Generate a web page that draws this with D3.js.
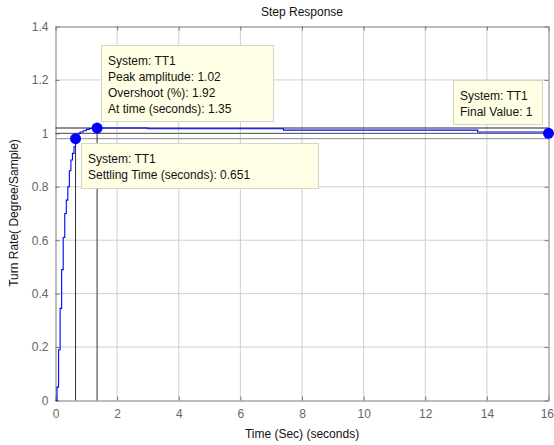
<!DOCTYPE html>
<html><head><meta charset="utf-8">
<script src="https://cdn.jsdelivr.net/npm/d3@7"></script>
<style>body{margin:0;background:#fff}svg text{font-family:"Liberation Sans",Arial,sans-serif}</style>
</head><body><svg id="c" width="554" height="445"></svg>
<script>
// Step response samples (time in s, value)
const stepTimes = [0,0.05,0.10,0.15,0.20,0.25,0.30,0.35,0.40,0.45,0.50,0.55,0.60,0.65,0.70,0.75,0.80,0.90,1.00,1.10,1.35,3.0,7.4,13.7,16];
const stepValues = [0,0.05,0.19,0.345,0.49,0.61,0.70,0.75,0.80,0.86,0.90,0.925,0.95,0.975,0.99,1.0,1.005,1.01,1.015,1.018,1.02,1.017,1.012,1.005,1.0];
const xTicks = [0,2,4,6,8,10,12,14,16];
const yTicks = [0,0.2,0.4,0.6,0.8,1,1.2,1.4];
const peak = {t:1.35, v:1.02};
const settle = {t:0.651, v:0.98};
const finalV = {t:16, v:1};
const refLevels = [1.02, 1.0, 0.98];
const tip1 = ["System: TT1","Peak amplitude: 1.02","Overshoot (%): 1.92","At time (seconds): 1.35"];
const tip2 = ["System: TT1","Settling Time (seconds): 0.651"];
const tip3 = ["System: TT1","Final Value: 1"];

const FS = "12px";
const svg = d3.select("#c");
const L=55.5, R=548.5, T=26.5, B=400.5;
const x = d3.scaleLinear().domain([0,16]).range([L,R]);
const y = d3.scaleLinear().domain([0,1.4]).range([B,T]);

// grid
svg.append("g").selectAll("line").data(xTicks.slice(1,-1)).join("line")
  .attr("x1",d=>x(d)).attr("x2",d=>x(d)).attr("y1",T).attr("y2",B).attr("stroke","#cfcfcf");
svg.append("g").selectAll("line").data(yTicks.slice(1,-1)).join("line")
  .attr("y1",d=>y(d)).attr("y2",d=>y(d)).attr("x1",L).attr("x2",R).attr("stroke","#cfcfcf");

// axes
const ax = svg.append("g").attr("transform",`translate(0,${B})`)
  .call(d3.axisBottom(x).tickValues(xTicks).tickFormat(d3.format("d")).tickSizeInner(-4).tickSizeOuter(0).tickPadding(9));
const ay = svg.append("g").attr("transform",`translate(${L},0)`)
  .call(d3.axisLeft(y).tickValues(yTicks).tickFormat(d=>d===0?"0":d===1?"1":d3.format(".1f")(d)).tickSizeInner(-4).tickSizeOuter(0).tickPadding(7));
const axt = svg.append("g").attr("transform",`translate(0,${T})`)
  .call(d3.axisTop(x).tickValues(xTicks).tickFormat("").tickSizeInner(-4).tickSizeOuter(0));
const ayr = svg.append("g").attr("transform",`translate(${R},0)`)
  .call(d3.axisRight(y).tickValues(yTicks).tickFormat("").tickSizeInner(-4).tickSizeOuter(0));
[ax,ay,axt,ayr].forEach(g=>{
  g.selectAll("path").attr("stroke","#7a7a7a");
  g.selectAll("line").attr("stroke","#7a7a7a");
  g.selectAll("text").attr("fill","#666").attr("font-size",FS);
});
// keep the last x tick label inside the window
ax.selectAll(".tick").filter(d=>d===16).select("text").attr("text-anchor","end").attr("dx","5");

// reference lines
const refCol = ["#222","#555","#888"];
svg.append("g").selectAll("line").data(refLevels).join("line")
  .attr("x1",L).attr("x2",R).attr("y1",d=>y(d)).attr("y2",d=>y(d))
  .attr("stroke",(d,i)=>refCol[i]).attr("stroke-width",1);
svg.append("g").selectAll("line").data([settle,peak]).join("line")
  .attr("x1",d=>x(d.t)).attr("x2",d=>x(d.t)).attr("y1",d=>y(d.v)).attr("y2",B)
  .attr("stroke","#333");

// step curve
const pts = stepTimes.map((t,i)=>[t,stepValues[i]]);
svg.append("path").datum(pts)
  .attr("d",d3.line().x(d=>x(d[0])).y(d=>y(d[1])).curve(d3.curveStepAfter))
  .attr("fill","none").attr("stroke","#0000ff").attr("stroke-width",1.1);

// markers
svg.append("g").selectAll("circle").data([settle,peak,finalV]).join("circle")
  .attr("cx",d=>x(d.t)).attr("cy",d=>y(d.v)).attr("r",5.5).attr("fill","#0000ff");

// data tips
function tip(x0,y0,w,h,lines){
  const g = svg.append("g");
  g.append("rect").attr("x",x0+0.5).attr("y",y0+0.5).attr("width",w).attr("height",h)
    .attr("fill","#ffffe6").attr("stroke","#d4d4c8");
  g.selectAll("text").data(lines).join("text")
    .attr("x",x0+7).attr("y",(d,i)=>y0+19.5+i*16).attr("font-size",FS).attr("fill","#111").text(d=>d);
}
tip(101,45,172,76,tip1);
tip(81,143,237,45,tip2);
tip(453,80,89,44,tip3);

// title and labels
svg.append("text").attr("x",302).attr("y",16).attr("text-anchor","middle").attr("font-size",FS).attr("fill","#111").text("Step Response");
svg.append("text").attr("x",302).attr("y",438).attr("text-anchor","middle").attr("font-size",FS).attr("fill","#111").text("Time (Sec) (seconds)");
svg.append("text").attr("transform","translate(18,213) rotate(-90)").attr("text-anchor","middle").attr("font-size",FS).attr("fill","#111").text("Turn Rate( Degree/Sample)");
</script></body></html>
